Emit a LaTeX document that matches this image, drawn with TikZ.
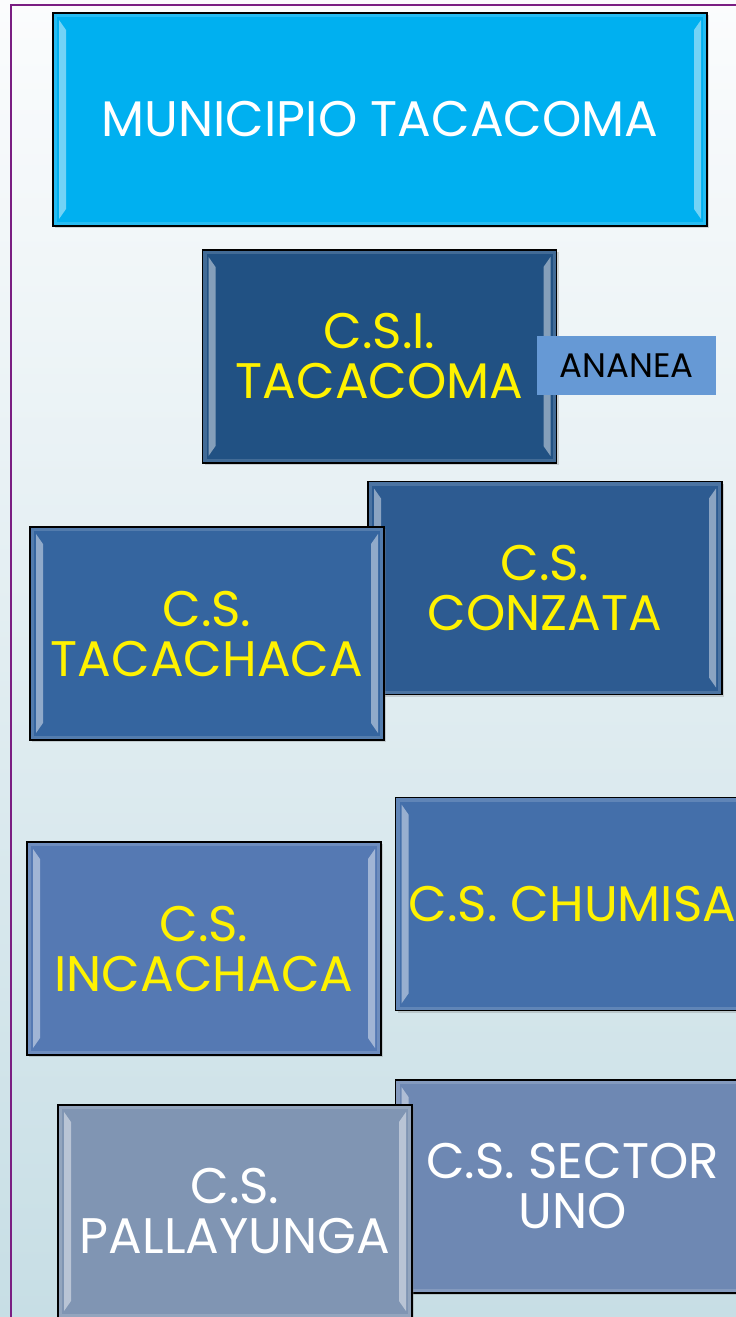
\documentclass[tikz,border=0pt]{standalone}
\usepackage{fontspec}
\setmainfont{Poppins}
\usetikzlibrary{shadows}
\definecolor{fondoalto}{HTML}{FBFCFD}
\definecolor{fondobajo}{HTML}{C7DEE5}
\definecolor{marco}{HTML}{7A1E82}
\definecolor{celeste}{HTML}{00B0F0}
\definecolor{azulcsi}{HTML}{215183}
\definecolor{azulcon}{HTML}{2D5B91}
\definecolor{azultac}{HTML}{35659F}
\definecolor{azulchu}{HTML}{446FAA}
\definecolor{azulinc}{HTML}{5579B3}
\definecolor{azulsec}{HTML}{6E88B3}
\definecolor{azulpal}{HTML}{8095B3}
\definecolor{azulana}{HTML}{6699D5}
% bisel claro de las cajas
\newcommand{\bisel}{%
  \fill[white,opacity=0.45]
    ([shift={(6pt,-7pt)}]path picture bounding box.north west) --
    ([shift={(13pt,-17pt)}]path picture bounding box.north west) --
    ([shift={(13pt,17pt)}]path picture bounding box.south west) --
    ([shift={(6pt,7pt)}]path picture bounding box.south west) -- cycle;
  \fill[white,opacity=0.45]
    ([shift={(-6pt,-7pt)}]path picture bounding box.north east) --
    ([shift={(-13pt,-17pt)}]path picture bounding box.north east) --
    ([shift={(-13pt,17pt)}]path picture bounding box.south east) --
    ([shift={(-6pt,7pt)}]path picture bounding box.south east) -- cycle;
}
\newcommand{\relleno}[1]{%
  \fill[#1] ([shift={(4pt,4pt)}]path picture bounding box.south west) rectangle ([shift={(-4pt,-4pt)}]path picture bounding box.north east);
}

\begin{document}
\begin{tikzpicture}[x=1pt,y=-1pt,
  cajon/.style={draw=black, line width=1.5pt, minimum width=354pt, minimum height=213pt,
    inner sep=0pt, align=center, text=yellow, font=\fontsize{50}{50}\selectfont,
    drop shadow={opacity=0.3,shadow xshift=2pt,shadow yshift=-2pt},
    path picture={\relleno{#1}\bisel}, fill=#1!85!white},
  etiqueta/.style={fill=azulana, minimum width=179pt, minimum height=59pt, inner sep=0pt,
    font=\fontsize{34}{36}\selectfont}]
\useasboundingbox (0,0) rectangle (736,1317);
\shade[top color=fondoalto, bottom color=fondobajo] (0,0) rectangle (736,1317);
\draw[marco, line width=2pt] (11,1317) -- (11,5) -- (736,5);

\node[cajon=celeste, text=white, minimum width=654pt] (muni) at (380,119.5) {MUNICIPIO TACACOMA};
\node[cajon=azulcsi] (csi) at (379.5,356.5) {C.S.I.\\TACACOMA};
\node[etiqueta] (ananea) at (626.5,365.5) {ANANEA};
\node[cajon=azulcon] (conzata) at (545,588) {C.S.\\CONZATA};
\node[cajon=azultac] (tacachaca) at (207,633.5) {C.S.\\TACACHACA};
\node[cajon=azulchu] (chumisa) at (572.5,904) {C.S. CHUMISA};
\node[cajon=azulinc] (incachaca) at (204,948.5) {C.S.\\INCACHACA};
\node[cajon=azulsec, text=white] (sector) at (572.5,1186.5) {C.S. SECTOR\\UNO};
\node[cajon=azulpal, text=white] (pallayunga) at (235,1211.5) {C.S.\\PALLAYUNGA};
\end{tikzpicture}
\end{document}
